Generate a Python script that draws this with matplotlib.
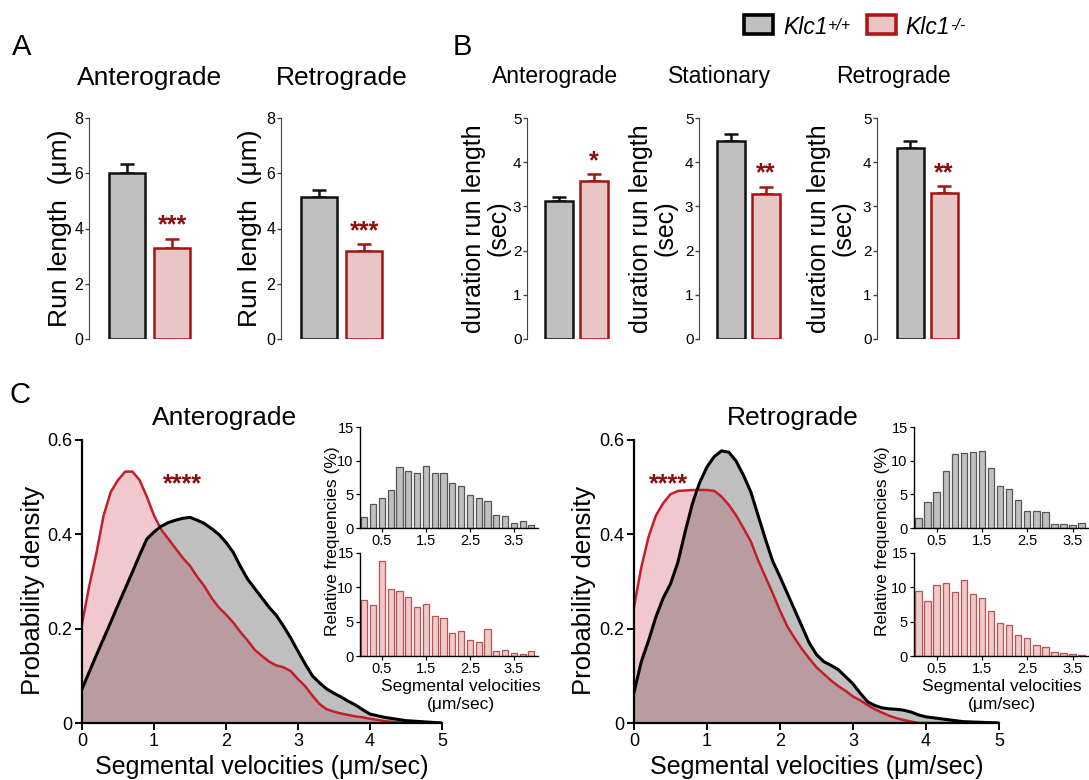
import matplotlib
matplotlib.use("Agg")
import matplotlib.pyplot as plt
from matplotlib.patches import Rectangle
from matplotlib.text import Annotation
import numpy as np

plt.rcParams["font.family"] = ["Liberation Sans", "DejaVu Sans"]

W, H = 1089, 780

# colours
WT_FILL, WT_EDGE = "#c0c0c0", "#111111"
KO_FILL, KO_EDGE = "#e8c6c6", "#a01515"
STAR = "#8b0d0d"
DENS_WT, DENS_KO, DENS_BOTH = "#bfbfbf", "#f0c8ce", "#b89ca0"
LINE_KO = "#c41e2a"
HIST_KO_FILL, HIST_KO_EDGE = "#efcaca", "#c05050"

# ---- panel A: run length (um), [Klc1+/+, Klc1-/-]
run_len_ante = [6.02, 3.30]
run_len_ante_sem = [0.31, 0.33]
run_len_retro = [5.15, 3.20]
run_len_retro_sem = [0.25, 0.24]

# ---- panel B: duration run length (sec)
dur_ante = [3.12, 3.57]
dur_ante_sem = [0.09, 0.16]
dur_stat = [4.48, 3.28]
dur_stat_sem = [0.15, 0.17]
dur_retro = [4.32, 3.30]
dur_retro_sem = [0.15, 0.16]

# ---- panel C: probability density of segmental velocities
velocity = [0.0, 0.1, 0.2, 0.3, 0.4, 0.5, 0.6, 0.7, 0.8, 0.9,
            1.0, 1.1, 1.2, 1.3, 1.4, 1.5, 1.6, 1.7, 1.8, 1.9,
            2.0, 2.1, 2.2, 2.3, 2.4, 2.5, 2.6, 2.7, 2.8, 2.9,
            3.0, 3.1, 3.2, 3.3, 3.4, 3.5, 3.6, 3.7, 3.8, 3.9,
            4.0, 4.2, 4.5, 5.0]
ante_wt = [0.072, 0.108, 0.144, 0.179, 0.214, 0.25, 0.285, 0.32, 0.356, 0.39,
           0.405, 0.417, 0.425, 0.43, 0.434, 0.436, 0.43, 0.423, 0.412, 0.4,
           0.383, 0.362, 0.332, 0.305, 0.285, 0.265, 0.245, 0.228, 0.205, 0.18,
           0.152, 0.125, 0.1, 0.085, 0.072, 0.063, 0.055, 0.046, 0.038, 0.028,
           0.019, 0.012, 0.005, 0.0]
ante_ko = [0.21, 0.29, 0.36, 0.44, 0.49, 0.515, 0.533, 0.533, 0.515, 0.48,
           0.44, 0.41, 0.39, 0.37, 0.35, 0.333, 0.31, 0.29, 0.265, 0.245,
           0.23, 0.213, 0.193, 0.175, 0.155, 0.142, 0.13, 0.122, 0.118, 0.11,
           0.093, 0.078, 0.058, 0.04, 0.029, 0.024, 0.02, 0.017, 0.014, 0.012,
           0.009, 0.004, 0.0, 0.0]
retro_wt = [0.065, 0.13, 0.175, 0.225, 0.265, 0.295, 0.34, 0.405, 0.465, 0.51,
            0.543, 0.565, 0.577, 0.574, 0.555, 0.525, 0.49, 0.44, 0.39, 0.343,
            0.31, 0.275, 0.24, 0.205, 0.17, 0.145, 0.13, 0.122, 0.113, 0.098,
            0.083, 0.063, 0.045, 0.037, 0.032, 0.03, 0.029, 0.027, 0.023, 0.017,
            0.013, 0.009, 0.003, 0.0]
retro_ko = [0.246, 0.33, 0.395, 0.44, 0.466, 0.485, 0.492, 0.493, 0.494, 0.494,
            0.494, 0.492, 0.48, 0.462, 0.44, 0.413, 0.385, 0.345, 0.31, 0.275,
            0.238, 0.205, 0.18, 0.157, 0.137, 0.118, 0.104, 0.09, 0.078, 0.068,
            0.056, 0.048, 0.038, 0.029, 0.022, 0.015, 0.01, 0.006, 0.003, 0.0,
            0.0, 0.0, 0.0, 0.0]

# ---- insets: relative frequencies (%) per 0.2 um/sec bin
bins = [0.1, 0.3, 0.5, 0.7, 0.9, 1.1, 1.3, 1.5, 1.7, 1.9,
        2.1, 2.3, 2.5, 2.7, 2.9, 3.1, 3.3, 3.5, 3.7, 3.9]
hist_ante_wt = [1.7, 3.6, 4.4, 5.6, 9.0, 8.5, 8.2, 9.2, 8.1, 8.1,
                6.7, 6.3, 4.9, 4.5, 4.0, 1.9, 1.8, 0.7, 1.0, 0.4]
hist_ante_ko = [8.2, 7.4, 13.9, 9.8, 9.5, 8.6, 7.2, 7.6, 5.8, 5.5,
                3.3, 3.7, 2.4, 2.0, 3.9, 0.8, 0.9, 0.5, 0.3, 0.8]
hist_retro_wt = [1.5, 3.9, 5.4, 8.4, 11.0, 11.2, 11.3, 11.4, 8.9, 6.3,
                 5.8, 4.2, 2.5, 2.5, 2.4, 0.6, 0.6, 0.5, 0.8]
hist_retro_ko = [9.4, 8.0, 10.3, 10.7, 9.3, 11.0, 9.1, 8.5, 6.6, 4.8,
                 4.5, 3.0, 2.6, 1.6, 1.3, 0.6, 0.5, 0.3, 0.1]


def px_axes(fig, left, top, right, bottom):
    return fig.add_axes([left / W, 1 - bottom / H, (right - left) / W, (bottom - top) / H])


def fig_text(fig, x, y, s, **kw):
    return fig.text(x / W, 1 - y / H, s, **kw)


def bar_panel(ax, values, sems, ymax, stars, ylabel, label_x, tick_fs, label_fs, xmin):
    pos = [0, 1]
    ax.bar(pos, values, width=0.8, color=[WT_FILL, KO_FILL],
           edgecolor=[WT_EDGE, KO_EDGE], linewidth=1.8, zorder=2)
    for p, v, e, c in zip(pos, values, sems, [WT_EDGE, KO_EDGE]):
        ax.errorbar(p, v, yerr=[[0], [e]], fmt="none", ecolor=c,
                    elinewidth=1.8, capsize=5, capthick=1.8, zorder=1)
    ax.text(1, values[1] + sems[1] + ymax * 0.005, stars, ha="center", va="bottom",
            color=STAR, fontsize=18, fontweight="bold")
    ax.set_xlim(xmin, 1.5)
    ax.set_ylim(0, ymax)
    ax.set_xticks([])
    ax.set_yticks(range(0, ymax + 1, 1 if ymax == 5 else 2))
    for s in ("top", "right", "bottom"):
        ax.spines[s].set_visible(False)
    ax.spines["left"].set_color("#444444")
    ax.tick_params(axis="y", direction="out", length=3, width=1, color="#444444",
                   labelsize=tick_fs, pad=1)
    ax.set_ylabel(ylabel, fontsize=label_fs, ha="center", linespacing=1.0)
    ax.yaxis.set_label_coords(label_x, 0.5)
    ax.patch.set_alpha(0)


def density_panel(ax, wt, ko, star_x, label_x):
    v = np.array(velocity)
    wt = np.array(wt)
    ko = np.array(ko)
    ax.fill_between(v, wt, color=DENS_WT, lw=0, zorder=1)
    ax.fill_between(v, ko, color=DENS_KO, lw=0, zorder=1)
    ax.fill_between(v, np.minimum(wt, ko), color=DENS_BOTH, lw=0, zorder=1)
    ax.plot(v, ko, color=LINE_KO, lw=1.8, zorder=2)
    ax.plot(v, wt, color="black", lw=2.2, zorder=2)
    ax.text(star_x, 0.505, "****", ha="center", va="center", color=STAR,
            fontsize=18, fontweight="bold")
    ax.set_xlim(0, 5)
    ax.set_ylim(0, 0.6)
    ax.set_xticks([0, 1, 2, 3, 4, 5])
    ax.set_yticks([0, 0.2, 0.4, 0.6])
    ax.set_yticklabels(["0", "0.2", "0.4", "0.6"])
    for s in ("top", "right"):
        ax.spines[s].set_visible(False)
    for s in ("left", "bottom"):
        ax.spines[s].set_linewidth(1.6)
        ax.spines[s].set_zorder(3)
    ax.tick_params(direction="out", length=5, width=1.4, labelsize=13, pad=2)
    ax.set_xlabel("Segmental velocities (\u03bcm/sec)", fontsize=18, labelpad=4)
    ax.set_ylabel("Probability density", fontsize=18.5)
    ax.yaxis.set_label_coords(label_x, 0.47)
    ax.patch.set_alpha(0)


def hist_panel(ax, values, fill, edge, xmax):
    ax.bar(bins[:len(values)], values, width=0.14, color=fill, edgecolor=edge,
           linewidth=0.9, zorder=2)
    ax.set_xlim(0, xmax)
    ax.set_ylim(0, 15)
    ax.set_yticks([0, 5, 10, 15])
    ax.set_xticks([0.5, 1.5, 2.5, 3.5])
    ax.set_xticklabels(["0.5", "1.5", "2.5", "3.5"])
    for s in ("top", "right"):
        ax.spines[s].set_visible(False)
    for s in ("left", "bottom"):
        ax.spines[s].set_linewidth(1.0)
    ax.tick_params(direction="out", length=3, width=0.9, labelsize=10.5, pad=1.5)
    ax.patch.set_alpha(0)


def genotype_label(fig, x, y, sup):
    base = fig_text(fig, x, y, "Klc1", fontsize=16.5, style="italic", va="baseline")
    fig.add_artist(Annotation(sup, xy=(1, 1), xycoords=base, xytext=(0.5, -1.5),
                              textcoords="offset points", va="top", fontsize=11.5,
                              style="italic"))


fig = plt.figure(figsize=(W / 100, H / 100), dpi=100)

# ---- A
axA1 = px_axes(fig, 89, 118, 195, 339)
bar_panel(axA1, run_len_ante, run_len_ante_sem, 8, "***", "Run length  (\u03bcm)",
          -0.16, 11.5, 19, -0.85)
axA2 = px_axes(fig, 281, 118, 387, 339)
bar_panel(axA2, run_len_retro, run_len_retro_sem, 8, "***", "Run length  (\u03bcm)",
          -0.18, 11.5, 19, -0.85)
fig_text(fig, 150, 78, "Anterograde", fontsize=19, ha="center", va="center")
fig_text(fig, 342, 78, "Retrograde", fontsize=19, ha="center", va="center")

# ---- B
dur_label = "duration run length\n(sec)"
axB1 = px_axes(fig, 527, 118, 611, 339)
bar_panel(axB1, dur_ante, dur_ante_sem, 5, "*", dur_label, -0.2, 11, 18, -0.93)
axB2 = px_axes(fig, 699, 118, 783, 339)
bar_panel(axB2, dur_stat, dur_stat_sem, 5, "**", dur_label, -0.26, 11, 18, -0.93)
axB3 = px_axes(fig, 877, 118, 961, 339)
bar_panel(axB3, dur_retro, dur_retro_sem, 5, "**", dur_label, -0.26, 11, 18, -0.98)
fig_text(fig, 555, 77, "Anterograde", fontsize=16.5, ha="center", va="center")
fig_text(fig, 720, 77, "Stationary", fontsize=16.5, ha="center", va="center")
fig_text(fig, 893, 77, "Retrograde", fontsize=16.5, ha="center", va="center")

# ---- legend
fig.patches.append(Rectangle((744 / W, 1 - 34 / H), 29 / W, 19 / H, transform=fig.transFigure,
                             facecolor=WT_FILL, edgecolor="black", lw=2.6))
fig.patches.append(Rectangle((867 / W, 1 - 34 / H), 29 / W, 19 / H, transform=fig.transFigure,
                             facecolor=KO_FILL, edgecolor="#b01818", lw=2.6))
genotype_label(fig, 783, 34, "+/+")
genotype_label(fig, 905, 34, "-/-")

# ---- C
axC1 = px_axes(fig, 82, 440, 442, 723)
density_panel(axC1, ante_wt, ante_ko, 1.4, -0.103)
axC2 = px_axes(fig, 634, 440, 999, 723)
density_panel(axC2, retro_wt, retro_ko, 0.47, -0.103)
fig_text(fig, 225, 418, "Anterograde", fontsize=19, ha="center", va="center")
fig_text(fig, 793, 418, "Retrograde", fontsize=19, ha="center", va="center")

# insets
axL1 = px_axes(fig, 360, 427, 538, 528)
hist_panel(axL1, hist_ante_wt, WT_FILL, "#555555", 4.05)
axL2 = px_axes(fig, 360, 553, 538, 656)
hist_panel(axL2, hist_ante_ko, HIST_KO_FILL, HIST_KO_EDGE, 4.05)
axR1 = px_axes(fig, 914, 427, 1088, 528)
hist_panel(axR1, hist_retro_wt, WT_FILL, "#555555", 3.84)
axR2 = px_axes(fig, 914, 553, 1088, 656)
hist_panel(axR2, hist_retro_ko, HIST_KO_FILL, HIST_KO_EDGE, 3.84)

for x, cx in ((332, 461), (883, 1002)):
    fig_text(fig, x, 541, "Relative frequencies (%)", fontsize=12.5, rotation=90,
             ha="center", va="center")
    fig_text(fig, cx, 686, "Segmental velocities", fontsize=12.5, ha="center", va="center")
    fig_text(fig, cx, 704, "(\u03bcm/sec)", fontsize=12.5, ha="center", va="center")

# panel letters
fig_text(fig, 22, 47, "A", fontsize=21, ha="center", va="center")
fig_text(fig, 462, 47, "B", fontsize=21, ha="center", va="center")
fig_text(fig, 20, 395, "C", fontsize=21, ha="center", va="center")

fig.savefig("out.png", dpi=100)
